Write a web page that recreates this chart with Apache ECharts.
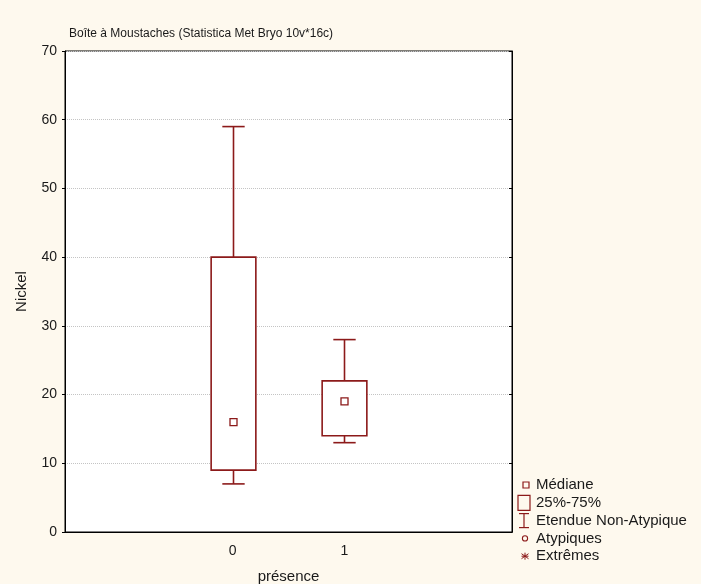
<!DOCTYPE html>
<html>
<head>
<meta charset="utf-8">
<script src="https://cdn.jsdelivr.net/npm/echarts@6/dist/echarts.min.js"></script>
<style>
html,body{margin:0;padding:0;background:#fef9ee;}
#chart{width:701px;height:584px;}
</style>
</head>
<body>
<div id="chart"></div>
<script>
// ---- data ----
const xCategories = [' ', '0', '1', '  '];
const groups = ['0', '1'];
const minValues = [7, 13];
const q1Values = [9, 14];
const medianValues = [16, 19];
const q3Values = [40, 22];
const maxValues = [59, 28];
const yTicks = [0, 10, 20, 30, 40, 50, 60, 70];
const legendLabels = ['Médiane', '25%-75%', 'Etendue Non-Atypique', 'Atypiques', 'Extrêmes'];

const RED = '#8c1a1a';
const FONT = '"Liberation Sans", Arial, sans-serif';
const TXT = '#1a1a1a';

const boxData = groups.map((g, i) => [xCategories.indexOf(g), minValues[i], q1Values[i], medianValues[i], q3Values[i], maxValues[i]]);

function renderItem(params, api) {
  const x = api.value(0);
  const pMin = api.coord([x, api.value(1)]);
  const pQ1 = api.coord([x, api.value(2)]);
  const pMed = api.coord([x, api.value(3)]);
  const pQ3 = api.coord([x, api.value(4)]);
  const pMax = api.coord([x, api.value(5)]);
  const band = api.size([1, 0])[0];
  const bw = band * 0.4;
  const cw = band * 0.2;
  const cx = Math.round(pQ1[0]) + 0.5;
  const st = { stroke: RED, fill: null, lineWidth: 1.6 };
  const ms = 7;
  return {
    type: 'group',
    children: [
      { type: 'line', shape: { x1: cx, y1: pQ3[1], x2: cx, y2: pMax[1] }, style: st },
      { type: 'line', shape: { x1: cx - cw / 2, y1: pMax[1], x2: cx + cw / 2, y2: pMax[1] }, style: st },
      { type: 'line', shape: { x1: cx, y1: pQ1[1], x2: cx, y2: pMin[1] }, style: st },
      { type: 'line', shape: { x1: cx - cw / 2, y1: pMin[1], x2: cx + cw / 2, y2: pMin[1] }, style: st },
      { type: 'rect', shape: { x: cx - bw / 2, y: pQ3[1], width: bw, height: pQ1[1] - pQ3[1] }, style: { stroke: RED, fill: '#fff', lineWidth: 1.6 } },
      { type: 'rect', shape: { x: cx - ms / 2, y: pMed[1] - ms / 2, width: ms, height: ms }, style: { stroke: RED, fill: '#fff', lineWidth: 1.3 } }
    ]
  };
}

// legend built from labels
const LX = 524, TX = 536, LY0 = 485, LDY = 17.8;
const legendIcons = [
  (y) => [{ type: 'rect', shape: { x: LX - 1, y: y - 3, width: 6, height: 6 }, style: { stroke: RED, fill: null, lineWidth: 1.2 } }],
  (y) => [{ type: 'rect', shape: { x: LX - 6, y: y - 7.5, width: 12, height: 15 }, style: { stroke: RED, fill: null, lineWidth: 1.2 } }],
  (y) => [
    { type: 'line', shape: { x1: LX, y1: y - 7, x2: LX, y2: y + 7 }, style: { stroke: RED, lineWidth: 1.2 } },
    { type: 'line', shape: { x1: LX - 5, y1: y - 7, x2: LX + 5, y2: y - 7 }, style: { stroke: RED, lineWidth: 1.2 } },
    { type: 'line', shape: { x1: LX - 5, y1: y + 7, x2: LX + 5, y2: y + 7 }, style: { stroke: RED, lineWidth: 1.2 } }
  ],
  (y) => [{ type: 'circle', shape: { cx: LX + 1, cy: y, r: 2.6 }, style: { stroke: RED, fill: null, lineWidth: 1.1 } }],
  (y) => [
    { type: 'line', shape: { x1: LX + 1, y1: y - 3.5, x2: LX + 1, y2: y + 3.5 }, style: { stroke: RED, lineWidth: 1 } },
    { type: 'line', shape: { x1: LX - 2.5, y1: y - 2.5, x2: LX + 4.5, y2: y + 2.5 }, style: { stroke: RED, lineWidth: 1 } },
    { type: 'line', shape: { x1: LX - 2.5, y1: y + 2.5, x2: LX + 4.5, y2: y - 2.5 }, style: { stroke: RED, lineWidth: 1 } },
    { type: 'line', shape: { x1: LX - 2.5, y1: y, x2: LX + 4.5, y2: y }, style: { stroke: RED, lineWidth: 1 } }
  ]
];
const legendChildren = [];
legendLabels.forEach((lab, i) => {
  const y = LY0 + i * LDY;
  legendIcons[i](y).forEach(c => legendChildren.push(Object.assign({ silent: true }, c)));
  legendChildren.push({ type: 'text', silent: true, x: TX, y: y, style: { text: lab, font: '15px ' + FONT, fill: TXT, textVerticalAlign: 'middle' } });
});

const chart = echarts.init(document.getElementById('chart'), null, { renderer: 'canvas' });
const axisLabelStyle = { fontSize: 14, fontFamily: FONT, color: TXT };
chart.setOption({
  backgroundColor: '#fef9ee',
  animation: false,
  title: {
    text: 'Boîte à Moustaches (Statistica Met Bryo 10v*16c)',
    left: 64, top: 23,
    textStyle: { fontSize: 12, fontWeight: 'normal', fontFamily: FONT, color: TXT }
  },
  grid: { left: 65, top: 51, right: 189, bottom: 52, outerBoundsMode: 'none', containLabel: false, show: true, backgroundColor: '#fff', borderColor: '#000', borderWidth: 1 },
  xAxis: [
    {
      type: 'category', position: 'bottom', data: xCategories, boundaryGap: true,
      axisLine: { lineStyle: { color: '#000', width: 1 } },
      axisTick: { inside: true, alignWithLabel: true, length: 4, lineStyle: { color: '#000' } },
      axisLabel: Object.assign({ margin: 12 }, axisLabelStyle),
      name: 'présence', nameLocation: 'middle', nameGap: 37,
      nameTextStyle: { fontSize: 15, fontFamily: FONT, color: TXT }
    },
    {
      type: 'category', position: 'top', data: xCategories, boundaryGap: true,
      axisLine: { lineStyle: { color: '#000', width: 1 } },
      axisTick: { inside: true, alignWithLabel: true, length: 4, lineStyle: { color: '#000' } },
      axisLabel: { show: false }
    }
  ],
  yAxis: [
    {
      type: 'value', position: 'left', min: yTicks[0], max: yTicks[yTicks.length - 1], interval: 10,
      axisLine: { show: true, lineStyle: { color: '#000', width: 1 } },
      axisTick: { show: true, length: 3, lineStyle: { color: '#000' } },
      axisLabel: Object.assign({ margin: 8 }, axisLabelStyle),
      splitLine: { show: true, lineStyle: { color: '#c4c4c4', type: [1, 1], width: 1 } },
      name: 'Nickel', nameLocation: 'middle', nameGap: 36,
      nameTextStyle: { fontSize: 15, fontFamily: FONT, color: TXT }
    },
    {
      type: 'value', position: 'right', min: yTicks[0], max: yTicks[yTicks.length - 1], interval: 10,
      axisLine: { show: true, lineStyle: { color: '#000', width: 1 } },
      axisTick: { show: true, inside: true, length: 3, lineStyle: { color: '#000' } },
      axisLabel: { show: false },
      splitLine: { show: false }
    }
  ],
  series: [{
    type: 'custom',
    name: 'Nickel',
    renderItem: renderItem,
    encode: { x: 0, y: [1, 2, 3, 4, 5] },
    data: boxData,
    z: 5
  }],
  graphic: { elements: legendChildren }
});
</script>
</body>
</html>
